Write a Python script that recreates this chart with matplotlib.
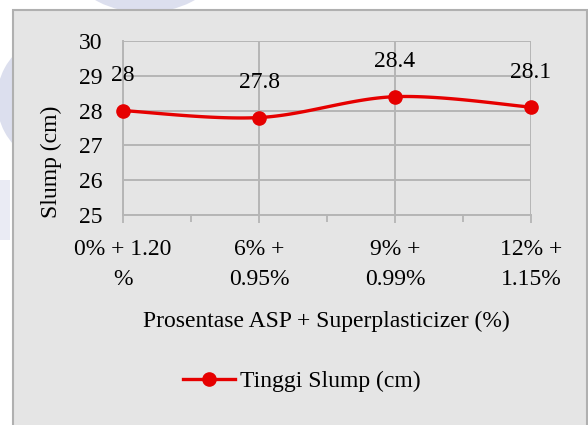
import numpy as np
import matplotlib
matplotlib.use("Agg")
import matplotlib.pyplot as plt
from matplotlib.patches import Rectangle, Arc
from matplotlib.lines import Line2D

# Data
categories = ["0% + 1.20\n%", "6% +\n0.95%", "9% +\n0.99%", "12% +\n1.15%"]
slump = [28.0, 27.8, 28.4, 28.1]
value_labels = ["28", "27.8", "28.4", "28.1"]
series_name = "Tinggi Slump (cm)"

plt.rcParams["font.family"] = ["Liberation Serif", "DejaVu Serif"]
FS = 17
RED = "#e60000"
GRID = "#b5b5b5"

W, H = 588, 425
fig = plt.figure(figsize=(W / 100, H / 100), dpi=100)
fig.patch.set_facecolor("white")

# faint background emblem outside the chart frame
wm = "#dcdfee"
fig.patches.append(Arc((145 / W, 1 - (-50) / H), 150 / W, 110 / H, theta1=200, theta2=340,
                       transform=fig.transFigure, color=wm, lw=11, zorder=0))
fig.patches.append(Arc((55 / W, 1 - 100 / H), 100 / W, 110 / H, theta1=110, theta2=250,
                       transform=fig.transFigure, color=wm, lw=12, zorder=0))
fig.patches.append(Rectangle((0, 1 - 240 / H), 10 / W, 60 / H, transform=fig.transFigure,
                             facecolor=wm, edgecolor="none", alpha=0.6, zorder=0))

# chart frame
fig.patches.append(Rectangle((13 / W, -0.05), (587 - 13) / W, 1.05 - 10 / H,
                             transform=fig.transFigure, facecolor="#e5e5e5",
                             edgecolor="#b0b0b0", lw=1.5, zorder=1))

ax = fig.add_axes([123 / W, 1 - 215 / H, 408 / W, 174 / H])
ax.set_facecolor("none")
ax.set_zorder(2)

x = np.arange(len(slump))
y = np.array(slump)

# smoothed line through the points (Catmull-Rom style spline)
def smooth(xp, yp, n=40, tension=0.5):
    px = np.concatenate([[xp[0]], xp, [xp[-1]]])
    py = np.concatenate([[yp[0]], yp, [yp[-1]]])
    xs, ys = [], []
    for i in range(1, len(px) - 2):
        t = np.linspace(0, 1, n)
        m0x = tension * (px[i + 1] - px[i - 1]); m0y = tension * (py[i + 1] - py[i - 1])
        m1x = tension * (px[i + 2] - px[i]); m1y = tension * (py[i + 2] - py[i])
        h00 = 2 * t**3 - 3 * t**2 + 1; h10 = t**3 - 2 * t**2 + t
        h01 = -2 * t**3 + 3 * t**2; h11 = t**3 - t**2
        xs.append(h00 * px[i] + h10 * m0x + h01 * px[i + 1] + h11 * m1x)
        ys.append(h00 * py[i] + h10 * m0y + h01 * py[i + 1] + h11 * m1y)
    return np.concatenate(xs), np.concatenate(ys)

sx, sy = smooth(x.astype(float), y)
ax.plot(sx, sy, color=RED, lw=2.4, zorder=3, clip_on=False)
ax.plot(x, y, "o", color=RED, ms=9.5, zorder=4, clip_on=False)

for xi, yi, lab in zip(x, y, value_labels):
    ax.annotate(lab, (xi, yi), xytext=(0, 25), textcoords="offset points",
                ha="center", va="center", fontsize=FS, color="black")

ax.set_xlim(0, len(slump) - 1)
ax.set_ylim(25, 30)
ax.set_yticks(np.arange(25, 31, 1))
ax.set_xticks(x)
ax.set_xticks(np.arange(0.5, len(slump) - 1, 1), minor=True)
ax.set_xticklabels(categories, fontsize=FS, linespacing=1.6)
ax.tick_params(axis="x", which="major", length=6, width=1.3, color=GRID, pad=11)
ax.tick_params(axis="x", which="minor", length=5, width=1.3, color=GRID)
ax.tick_params(axis="y", length=0, pad=15, labelsize=FS)
ax.grid(True, which="major", color=GRID, lw=1.4)
ax.set_axisbelow(True)
for s in ["top", "right"]:
    ax.spines[s].set_visible(False)
for s in ["left", "bottom"]:
    ax.spines[s].set_color(GRID)
    ax.spines[s].set_linewidth(1.4)

fig.text(51 / W, 1 - 162 / H, "Slump (cm)", rotation=90, ha="center", va="center",
         fontsize=FS)
fig.text(326 / W, 1 - 321 / H, "Prosentase ASP + Superplasticizer (%)", ha="center",
         va="center", fontsize=FS)

handle = Line2D([], [], color=RED, lw=2.4, marker="o", ms=9.5)
fig.legend([handle], [series_name], loc="center", bbox_to_anchor=(302 / W, 1 - 381 / H),
           frameon=False, fontsize=FS, handlelength=2.2, handletextpad=0.2)

fig.savefig("out.png", dpi=100)
